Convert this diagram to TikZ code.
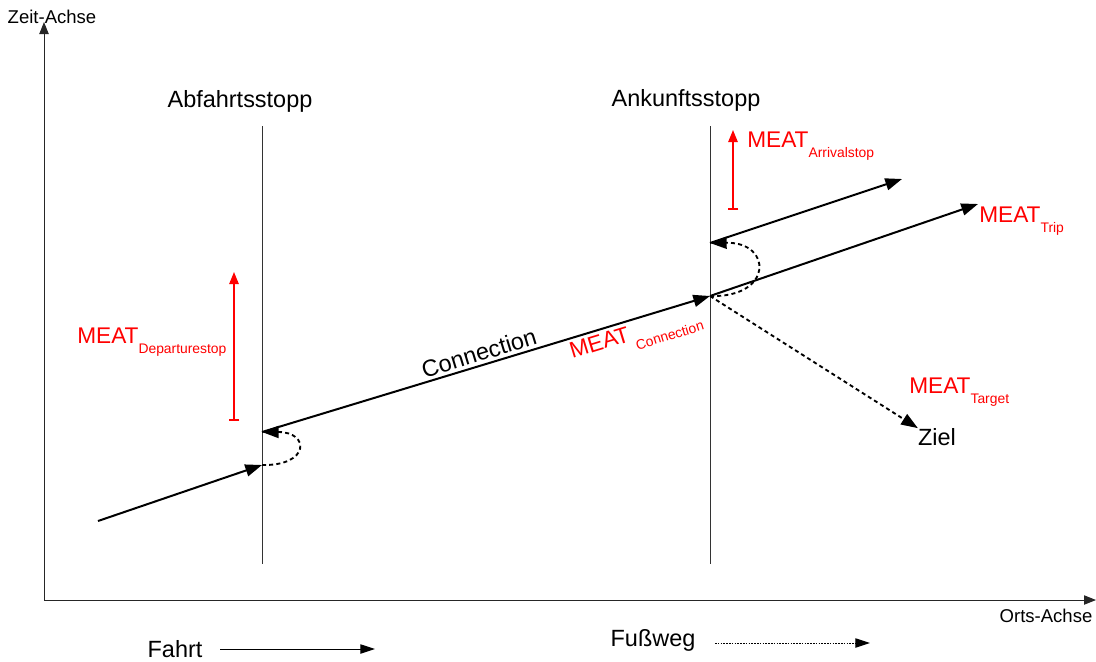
\documentclass[tikz,border=0pt]{standalone}
\usepackage{fontspec}
\setmainfont{Liberation Sans}
\usetikzlibrary{arrows.meta}
\begin{document}
\begin{tikzpicture}[x=0.75pt,y=-0.75pt,
  axis/.style={line width=0.75pt, draw=black!85, -{Triangle[length=9pt,width=7pt]}},
  stopline/.style={line width=0.75pt, draw=black!80},
  trip/.style={line width=1.5pt, -{Triangle[length=12.5pt,width=9pt]}},
  walk/.style={line width=1.4pt, dash pattern=on 3pt off 2.4pt, -{Triangle[length=12.5pt,width=9pt]}},
  meatarrow/.style={red, line width=1.2pt, {Bar[width=8pt]}-{Triangle[length=9pt,width=7pt]}},
  lbl/.style={inner sep=0, font=\fontsize{17.6}{20}\selectfont},
  axlbl/.style={inner sep=0, font=\fontsize{13.9}{16}\selectfont},
  meat/.style={inner sep=0, text=red, font=\fontsize{17}{20}\selectfont, anchor=base west}
]
\useasboundingbox (0,0) rectangle (1096,661);
\newcommand{\meatsub}[1]{\raisebox{-8pt}{\fontsize{10.4}{12}\selectfont #1}}

% axes
\coordinate (O) at (44,600);
\coordinate (ytip) at (44,22);
\coordinate (xtip) at (1096,600);
\draw[axis] (O) -- (ytip);
\draw[axis] (O) -- (xtip);
\node[axlbl] (zeit) at (52,17) {Zeit-Achse};
\node[axlbl] (orts) at (1046,616) {Orts-Achse};

% stop lines
\coordinate (a1) at (262,126);
\coordinate (a2) at (262,564);
\coordinate (b1) at (710,126);
\coordinate (b2) at (710,564);
\draw[stopline] (a1) -- (a2);
\draw[stopline] (b1) -- (b2);
\node[lbl] (abf) at (240,101) {Abfahrtsstopp};
\node[lbl] (ank) at (686,100) {Ankunftsstopp};

% points
\coordinate (s0) at (98,521);
\coordinate (arrA) at (262,465);
\coordinate (depA) at (262,432);
\coordinate (arrB) at (710,296);
\coordinate (depB) at (710,243);
\coordinate (tripEnd) at (978,204);
\coordinate (nextEnd) at (902,179);

\draw[trip] (s0) -- (arrA);
\draw[walk] (arrA) .. controls (310,466) and (310,432) .. (depA);
\draw[trip] (depA) -- (arrB);
\draw[walk] (arrB) .. controls (773,298) and (773,242) .. (depB);
\draw[trip] (arrB) -- (tripEnd);
\draw[trip] (depB) -- (nextEnd);
\node[lbl] (ziel) at (937,437) {Ziel};
\draw[walk] (arrB) -- (ziel.north west);

% red MEAT arrows
\coordinate (r1a) at (234,421);
\coordinate (r1b) at (234,272);
\coordinate (r2a) at (733,210);
\coordinate (r2b) at (733,130);
\draw[meatarrow] (r1a) -- (r1b);
\draw[meatarrow] (r2a) -- (r2b);

% labels
\node[meat] (mdep) at (77,343) {MEAT\meatsub{Departurestop}};
\node[meat] (marr) at (747,147) {MEAT\meatsub{Arrivalstop}};
\node[meat] (mtrip) at (979,222) {MEAT\meatsub{Trip}};
\node[meat] (mtarget) at (909,393) {MEAT\meatsub{Target}};
\node[meat, rotate=17] (mconn) at (572,359) {MEAT\,\meatsub{Connection}};
\node[lbl, rotate=17] (conn) at (479,353) {Connection};

% legend
\node[lbl] (fahrt) at (175,649) {Fahrt};
\coordinate (f1) at (220,649);
\coordinate (f2) at (375,649);
\draw[line width=0.75pt, -{Triangle[length=11pt,width=7pt]}] (f1) -- (f2);
\node[lbl] (fuss) at (653,640) {Fußweg};
\coordinate (w1) at (715,643);
\coordinate (w2) at (870,643);
\draw[line width=0.75pt, dash pattern=on 1.2pt off 0.9pt, -{Triangle[length=11pt,width=7pt]}] (w1) -- (w2);
\end{tikzpicture}
\end{document}
